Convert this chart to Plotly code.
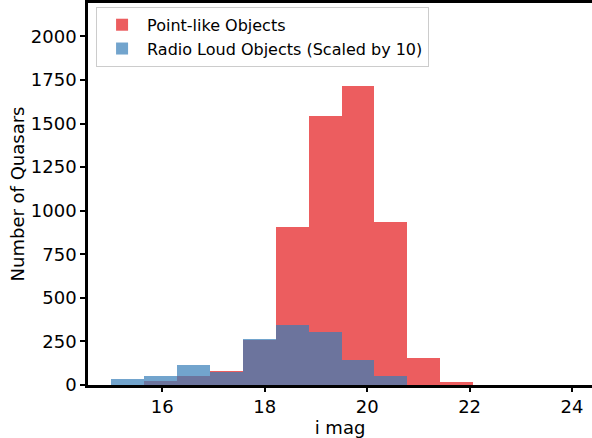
import numpy as np
import plotly.graph_objects as go

# Histogram bin edges (i magnitude) shared by both series
bin_edges = list(np.linspace(15.0, 24.0, 15))

# Counts per bin
point_like_counts = [0, 23, 53, 80, 258, 905, 1545, 1716, 938, 156, 15, 0, 0, 0]
radio_loud_scaled = [35, 52, 112, 75, 265, 342, 305, 142, 52, 0, 0, 0, 0, 0]

edges = np.array(bin_edges)
centers = (edges[:-1] + edges[1:]) / 2
widths = edges[1:] - edges[:-1]

fig = go.Figure()
fig.add_trace(go.Bar(
    x=centers, y=point_like_counts, width=widths,
    name="Point-like Objects",
    marker=dict(color="#e41a1c", line=dict(width=0)),
    opacity=0.7,
))
fig.add_trace(go.Bar(
    x=centers, y=radio_loud_scaled, width=widths,
    name="Radio Loud Objects (Scaled by 10)",
    marker=dict(color="#377eb8", line=dict(width=0)),
    opacity=0.7,
))

axis_font = dict(family="DejaVu Sans", size=18, color="black")

fig.update_layout(
    width=592, height=438,
    margin=dict(l=88, r=0, t=1, b=53),
    barmode="overlay",
    bargap=0,
    plot_bgcolor="white",
    paper_bgcolor="white",
    font=dict(family="DejaVu Sans", size=16, color="black"),
    legend=dict(
        x=0.016, y=0.99, xanchor="left", yanchor="top",
        bgcolor="rgba(255,255,255,0.8)", bordercolor="#cccccc", borderwidth=1,
        font=dict(family="DejaVu Sans", size=16, color="black"),
        itemwidth=40,
        tracegroupgap=0,
    ),
    xaxis=dict(
        range=[14.55, 24.39],
        tickvals=[16, 18, 20, 22, 24],
        ticktext=["16", "18", "20", "22", "24"],
        showgrid=False, zeroline=False,
        showline=True, linecolor="black", linewidth=2.5, mirror=True,
        ticks="outside", ticklen=4, tickwidth=1.5, tickcolor="black",
        tickfont=axis_font,
        title=dict(text="i mag", font=axis_font, standoff=0),
    ),
    yaxis=dict(
        range=[0, 2192],
        tickvals=[0, 250, 500, 750, 1000, 1250, 1500, 1750, 2000],
        showgrid=False, zeroline=False,
        showline=True, linecolor="black", linewidth=2.5, mirror=False,
        ticks="outside", ticklen=5, tickwidth=1.5, tickcolor="black",
        tickfont=axis_font,
        title=dict(text="Number of Quasars", font=axis_font, standoff=2),
    ),
)

fig.write_html("out.html")
